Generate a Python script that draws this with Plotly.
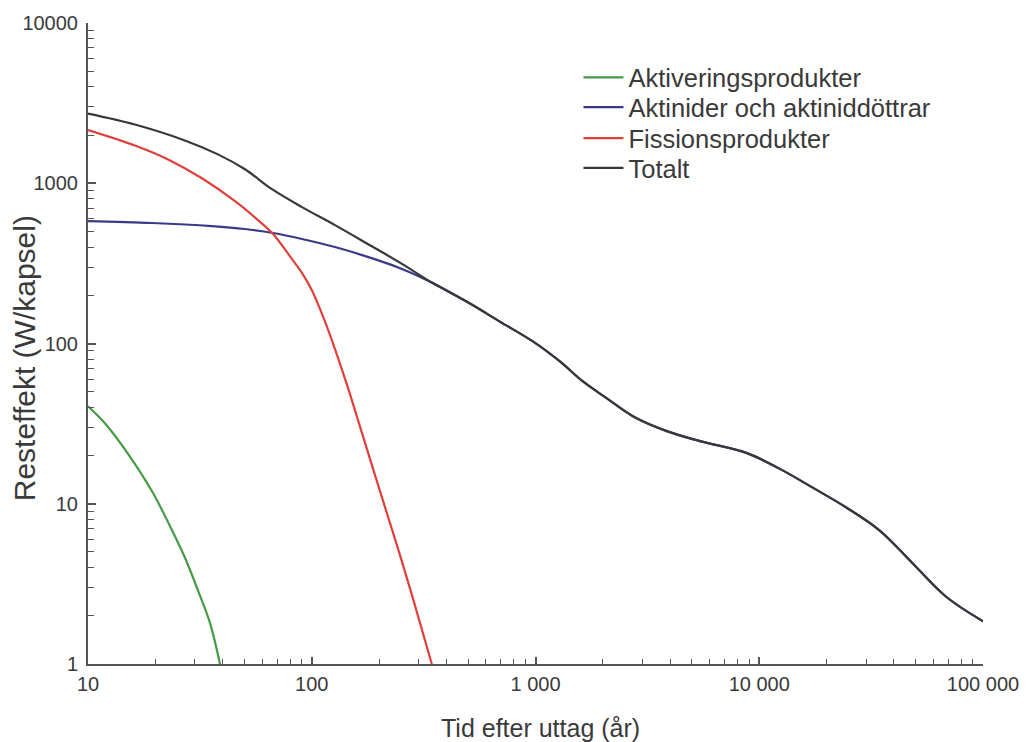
import plotly.graph_objects as go

# ---- data ----
green_x = [10, 11.9, 15.1, 19.3, 23.2, 27.1, 31.0, 35.1, 38.9]
green_y = [40.6, 31.8, 20.5, 12.0, 7.3, 4.62, 2.88, 1.80, 1.0]

red_x = [10, 16.2, 22.8, 32.3, 45.4, 57.5, 67.2, 81.5, 90.4, 100, 111, 120.5, 143.5, 169.5, 201.8, 240.4, 283.3, 344]
red_y = [2150, 1722, 1409, 1074, 773, 589, 482, 337, 276, 216, 153.6, 113.7, 55.6, 26.3, 12.0, 5.5, 2.57, 1.0]

blue_x = [10, 19.3, 35.8, 50.3, 67.2, 90.4, 127, 178, 253, 344, 494, 693, 973, 1285, 1629, 2084,
          2724, 3864, 5430, 8810, 12360, 17340, 24600, 34560, 48550, 68870, 100000]
blue_y = [581, 565, 540, 518, 489, 449, 400, 347, 292, 240, 182, 137, 103, 77.3, 58.0, 45.5,
          35.2, 28.4, 24.6, 20.7, 16.5, 12.6, 9.44, 6.80, 4.24, 2.61, 1.85]

total_x = [10, 16.2, 27.1, 38.1, 50.3, 66.4, 90.4, 127, 178, 253, 344, 494, 693, 973, 1285, 1629,
           2084, 2724, 3864, 5430, 8810, 12360, 17340, 24600, 34560, 48550, 68870, 100000]
total_y = [2722, 2325, 1850, 1514, 1222, 918, 710, 548, 418, 314, 240, 182, 137, 103, 77.3, 58.0,
           45.5, 35.2, 28.4, 24.6, 20.7, 16.5, 12.6, 9.44, 6.80, 4.24, 2.61, 1.85]

series_names = ["Aktiveringsprodukter", "Aktinider och aktiniddöttrar", "Fissionsprodukter", "Totalt"]

x_tickvals = [10, 100, 1000, 10000, 100000]
x_ticktext = ["10", "100", "1 000", "10 000", "100 000"]
y_tickvals = [1, 10, 100, 1000, 10000]
y_ticktext = ["1", "10", "100", "1000", "10000"]

x_title = "Tid efter uttag (år)"
y_title = "Resteffekt (W/kapsel)"

# ---- figure ----
FONT = "Liberation Sans, Arial, Helvetica, sans-serif"
TXT = "#3a3a3a"
AX = "#555555"

colors = ["#459a45", "#3b3a88", "#e0403a", "#383838"]
xs = [green_x, blue_x, red_x, total_x]
ys = [green_y, blue_y, red_y, total_y]
legend_ids = ["legend", "legend2", "legend3", "legend4"]

fig = go.Figure()
for name, x, y, c, lg in zip(series_names, xs, ys, colors, legend_ids):
    fig.add_trace(go.Scatter(
        x=x, y=y, mode="lines", name=name, legend=lg,
        line=dict(color=c, width=2.2, shape="spline", smoothing=1.0),
    ))

minor_vals_x = [m * 10 ** k for k in range(1, 5) for m in range(2, 10)]
minor_vals_y = [m * 10 ** k for k in range(0, 4) for m in range(2, 10)]

fig.update_xaxes(
    type="log", range=[1, 5],
    tickvals=x_tickvals, ticktext=x_ticktext,
    ticks="inside", ticklen=7, tickwidth=1.5, tickcolor=AX,
    minor=dict(tickvals=minor_vals_x, ticks="inside", ticklen=5, tickwidth=1.2, tickcolor=AX, showgrid=False),
    showline=True, linecolor=AX, linewidth=2,
    showgrid=False, zeroline=False,
    tickfont=dict(family=FONT, size=20, color=TXT),
    ticklabelstandoff=1,
)
fig.update_yaxes(
    type="log", range=[0, 4],
    tickvals=y_tickvals, ticktext=y_ticktext,
    ticks="inside", ticklen=8, tickwidth=1.5, tickcolor=AX,
    minor=dict(tickvals=minor_vals_y, ticks="inside", ticklen=6, tickwidth=1.2, tickcolor=AX, showgrid=False),
    showline=True, linecolor=AX, linewidth=2,
    showgrid=False, zeroline=False,
    tickfont=dict(family=FONT, size=20, color=TXT),
    ticklabelstandoff=4,
)

fig.add_annotation(
    text=y_title, xref="paper", yref="paper", x=-0.0715, y=0.477,
    textangle=-90, showarrow=False, xanchor="center", yanchor="middle",
    font=dict(family=FONT, size=30, color=TXT),
)
fig.add_annotation(
    text=x_title, xref="paper", yref="paper", x=0.506, y=-0.100,
    showarrow=False, xanchor="center", yanchor="middle",
    font=dict(family=FONT, size=25, color=TXT),
)

# one single-entry legend per series, stacked like the reference key
row_centres_px = [75, 105, 136, 166]
legend_common = dict(
    x=0.548, xanchor="left", yanchor="middle",
    font=dict(family=FONT, size=25.5, color=TXT),
    bgcolor="rgba(0,0,0,0)", itemwidth=40,
)
legend_layout = {}
for lg, row in zip(legend_ids, row_centres_px):
    legend_layout[lg] = dict(legend_common, y=(664 - row) / 644)

fig.update_layout(
    width=1034, height=742, autosize=False,
    margin=dict(l=88, r=51, t=20, b=78),
    paper_bgcolor="white", plot_bgcolor="white",
    showlegend=True,
    **legend_layout,
)

fig.write_html("out.html")
